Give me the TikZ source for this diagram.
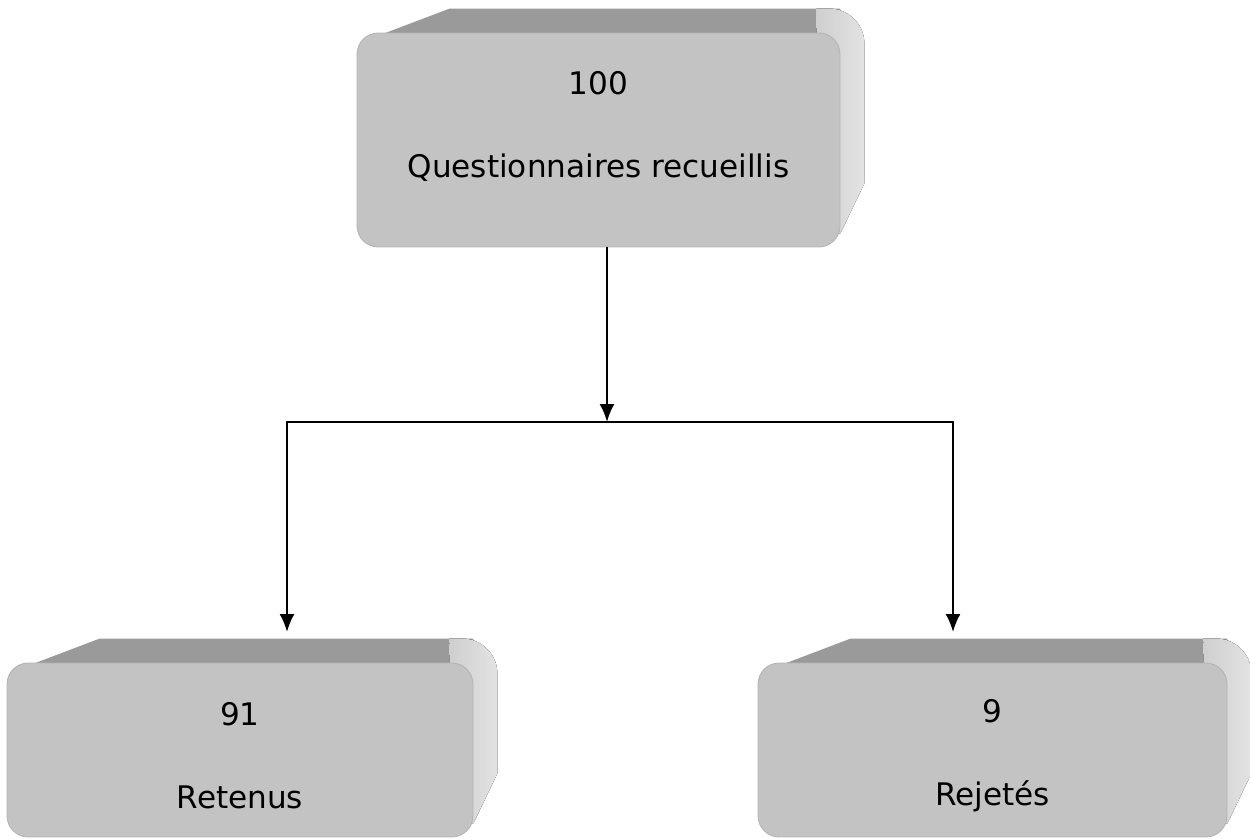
\documentclass[tikz,border=0pt]{standalone}
\usepackage{fontspec}
\setmainfont{DejaVu Sans}
\usepackage{xcolor}
\usetikzlibrary{calc}
\usetikzlibrary{backgrounds}
\usetikzlibrary{arrows.meta}

\definecolor{facegris}{HTML}{C3C3C3}
\definecolor{bordgris}{HTML}{B4B4B4}
\definecolor{dessusgris}{HTML}{9A9A9A}
\definecolor{cotegrisA}{HTML}{CFCFCF}
\definecolor{cotegrisB}{HTML}{E3E3E3}

\tikzset{
  boite/.style = {rectangle, rounded corners=12pt, fill=facegris, draw=bordgris, line width=.5pt,
    align=center, font=\fontsize{17.7}{47}\selectfont},
  dessus/.style = {fill=dessusgris},
  cote/.style = {left color=cotegrisA, right color=cotegrisB},
  fleche/.style = {line width=1.2pt, -{Latex[length=.36cm, width=.3cm]}}
}

\begin{document}
\begin{tikzpicture}[x=0.02cm, y=-0.02cm]
 \useasboundingbox (0, 0) rectangle (1250, 839);
  \node[boite, minimum width=9.66cm, minimum height=4.28cm, text depth=18pt] (haut) at (598.5, 140) {100\\Questionnaires recueillis};
  \node[boite, minimum width=9.32cm, minimum height=3.48cm, text height=66.7pt] (retenus) at (240, 750) {91\\Retenus};
  \node[boite, minimum width=9.38cm, minimum height=3.48cm, text height=66.7pt] (rejetes) at (992.5, 750) {9\\Rejetés};
  \begin{pgfonlayer}{background}
  \foreach \n in {haut, retenus, rejetes}{
    \fill[dessus] ($(\n.north west)+(14, 6)$) -- ($(\n.north west)+(93, -24)$) -- ($(\n.north east)+(0, -24)$) -- ($(\n.north east)+(0, 6)$) -- cycle;
    \fill[cote] ($(\n.north east)+(-24, -24)$) [rounded corners=20pt] -- ($(\n.north east)+(24, -24)$) [sharp corners] -- ($(\n.south east)+(24, -64)$) -- ($(\n.south east)+(0, -14)$) -- ($(\n.south east)+(-20, -14)$) -- cycle;
  }
  \end{pgfonlayer}
  \coordinate (jonction) at (607, 422);
  \coordinate (piedG) at (287, 632);
  \coordinate (piedD) at (953, 632);
  \draw[fleche] (haut.south -| jonction) -- (jonction);
  \draw[fleche] (jonction) -| (piedG);
  \draw[fleche] (jonction) -| (piedD);
 \end{tikzpicture}
\end{document}
